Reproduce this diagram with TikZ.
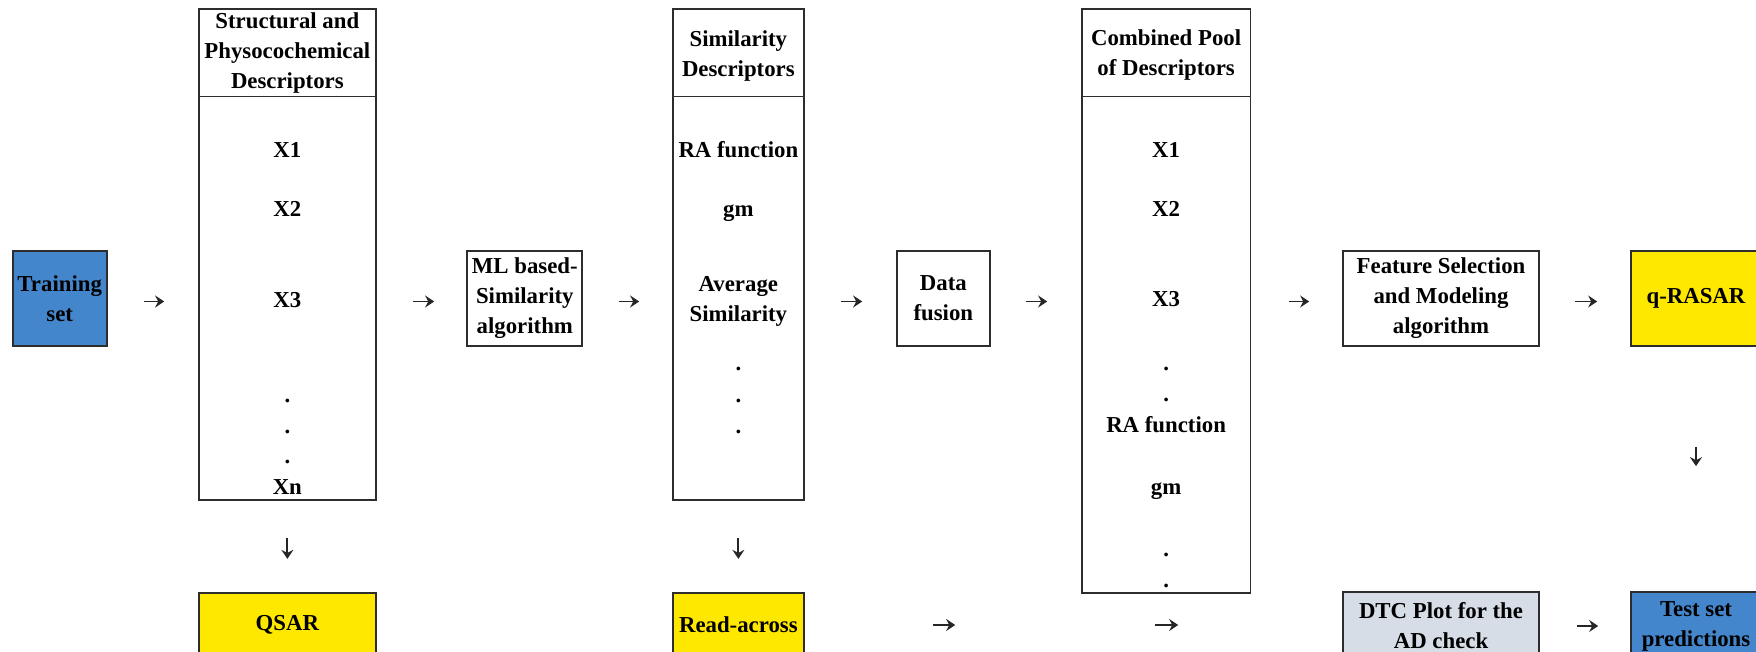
\documentclass[tikz,border=0pt]{standalone}
\usepackage{fontspec}
\setmainfont{Liberation Serif}
\usetikzlibrary{arrows.meta}
\definecolor{tblue}{RGB}{68,134,204}
\definecolor{tyellow}{RGB}{255,232,0}
\definecolor{tgray}{RGB}{214,221,231}
\definecolor{tline}{RGB}{45,45,45}
\tikzset{
  box/.style={draw=tline, line width=1.7pt, inner sep=0pt, align=center, minimum height=95pt},
  item/.style={inner sep=0pt, text height=15pt, text depth=0pt},
  dotitem/.style={inner sep=0pt, anchor=base},
  hdr/.style={inner sep=0pt, align=center},
  harr/.style={-{Stealth[length=9pt,width=12pt,inset=3pt]}, line width=1.9pt, draw=black!85},
  sepline/.style={draw=tline, line width=1.7pt}
}
\begin{document}
\begin{tikzpicture}[x=1pt,y=-1pt, font=\fontsize{22.8pt}{30pt}\selectfont\bfseries]
\useasboundingbox (0,0) rectangle (1756,652);
\fill[white] (0,0) rectangle (1756,652);
\clip (0,0) rectangle (1756,652);

% Training set
\node[box, fill=tblue, minimum width=94pt] (train) at (59.7,298.5) {Training\\set};

% Structural and physicochemical descriptors
\node[box, minimum width=176.7pt, minimum height=490.7pt] (struct) at (287.35,254.65) {};
\draw[sepline] ([yshift=-88pt]struct.north west) -- ([yshift=-88pt]struct.north east);
\node[hdr] (structh) at (287.35,53) {Structural and\\Physocochemical\\Descriptors};
\node[item] (s1) at (287.35,150) {X1};
\node[item] (s2) at (287.35,209) {X2};
\node[item] (s3) at (287.35,300) {X3};
\node[dotitem] (sd1) at (287.35,402.3) {.};
\node[dotitem] (sd2) at (287.35,433.3) {.};
\node[dotitem] (sd3) at (287.35,463.8) {.};
\node[item] (sn) at (287.35,487) {Xn};
\node[box, fill=tyellow, minimum width=176.7pt, minimum height=64.6pt] (qsar) at (287.35,625) {QSAR};

% ML based similarity
\node[box, minimum width=115pt] (ml) at (524.8,298.5) {ML based-\\Similarity\\algorithm};

% Similarity descriptors
\node[box, minimum width=131.3pt, minimum height=490.7pt] (sim) at (738.35,254.65) {};
\draw[sepline] ([yshift=-88pt]sim.north west) -- ([yshift=-88pt]sim.north east);
\node[hdr] (simh) at (738.35,56) {Similarity\\Descriptors};
\node[item] (r1) at (738.35,150) {RA function};
\node[item] (r2) at (738.35,209) {gm};
\node[hdr] (r3) at (738.35,301.5) {Average\\Similarity};
\node[dotitem] (rd1) at (738.35,370.3) {.};
\node[dotitem] (rd2) at (738.35,402.3) {.};
\node[dotitem] (rd3) at (738.35,433.3) {.};
\node[box, fill=tyellow, minimum width=131.3pt, minimum height=64.6pt] (ra) at (738.35,625) {Read-across};

% Data fusion
\node[box, minimum width=93.3pt] (df) at (943.35,298.5) {Data\\fusion};

% Combined pool
\node[box, minimum width=168.8pt, minimum height=583.4pt] (comb) at (1166.1,301) {};
\draw[sepline] ([yshift=-88pt]comb.north west) -- ([yshift=-88pt]comb.north east);
\node[hdr] (combh) at (1166.1,55) {Combined Pool\\of Descriptors};
\node[item] (c1) at (1166.1,150) {X1};
\node[item] (c2) at (1166.1,209) {X2};
\node[item] (c3) at (1166.1,299.4) {X3};
\node[dotitem] (cd1) at (1166.1,370.3) {.};
\node[dotitem] (cd2) at (1166.1,401.3) {.};
\node[item] (c4) at (1166.1,425) {RA function};
\node[item] (c5) at (1166.1,487) {gm};
\node[dotitem] (cd3) at (1166.1,556.3) {.};
\node[dotitem] (cd4) at (1166.1,587.3) {.};

% Feature selection
\node[box, minimum width=196.6pt] (feat) at (1441,298.5) {Feature Selection\\and Modeling\\algorithm};

% q-RASAR
\node[box, fill=tyellow, minimum width=130pt] (qr) at (1696,298.5) {q-RASAR};

% DTC and test set
\node[box, fill=tgray, minimum width=196.6pt, minimum height=68pt] (dtc) at (1441,626) {DTC Plot for the\\AD check};
\node[box, fill=tblue, minimum width=130pt, minimum height=68pt] (ts) at (1696,626) {Test set\\predictions};

% Horizontal arrows, top row
\draw[harr, shorten <=36.3pt, shorten >=34pt] ([yshift=-3pt]train.east) -- ([yshift=-3pt]train.east -| struct.west);
\draw[harr, shorten <=36.3pt, shorten >=32.3pt] ([yshift=-3pt]train.east -| struct.east) -- ([yshift=-3pt]ml.west);
\draw[harr, shorten <=35.7pt, shorten >=32.7pt] ([yshift=-3pt]ml.east) -- ([yshift=-3pt]ml.east -| sim.west);
\draw[harr, shorten <=36pt, shorten >=33.7pt] ([yshift=-3pt]df.west -| sim.east) -- ([yshift=-3pt]df.west);
\draw[harr, shorten <=35pt, shorten >=33.7pt] ([yshift=-3pt]df.east) -- ([yshift=-3pt]df.east -| comb.west);
\draw[harr, shorten <=38pt, shorten >=32.7pt] ([yshift=-3pt]feat.west -| comb.east) -- ([yshift=-3pt]feat.west);
\draw[harr, shorten <=34.7pt, shorten >=33pt] ([yshift=-3pt]feat.east) -- ([yshift=-3pt]qr.west);

% Vertical arrows
\draw[harr, shorten <=37pt, shorten >=33pt] (struct.south) -- (qsar.north);
\draw[harr, shorten <=37pt, shorten >=33pt] (sim.south) -- (ra.north);
\draw[harr, shorten <=100pt, shorten >=125pt] (qr.south) -- (ts.north);

% Bottom row arrows
\draw[harr, shorten <=128pt, shorten >=386.7pt] (ra.east) -- (ra.east -| dtc.west);
\draw[harr, shorten <=350pt, shorten >=163.7pt] (ra.east) -- (ra.east -| dtc.west);
\draw[harr, shorten <=36.7pt, shorten >=32pt] (dtc.east) -- (ts.west);
\end{tikzpicture}
\end{document}
